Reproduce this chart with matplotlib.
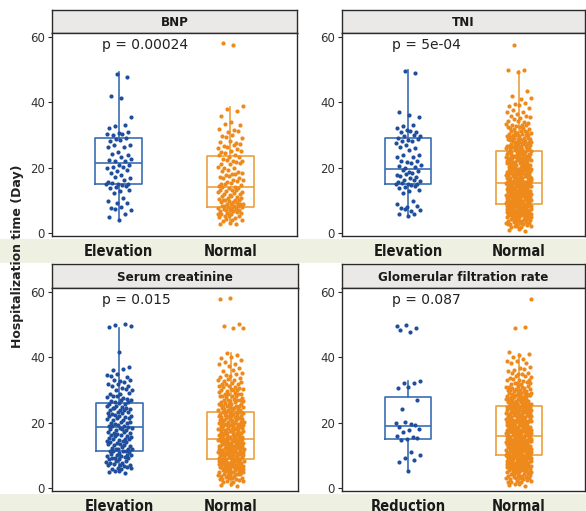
import numpy as np
import matplotlib
matplotlib.use("Agg")
import matplotlib.pyplot as plt
from matplotlib.patches import Rectangle
from matplotlib import font_manager

# ---------------- data ----------------
panel_titles = ["BNP", "TNI", "Serum creatinine", "Glomerular filtration rate"]
group_labels = [["Elevation", "Normal"], ["Elevation", "Normal"],
                ["Elevation", "Normal"], ["Reduction", "Normal"]]
p_labels = ["p = 0.00024", "p = 5e-04", "p = 0.015", "p = 0.087"]
y_ticks = [0, 20, 40, 60]

# box statistics: (whisker low, Q1, median, Q3, whisker high)
bnp_elev_box = [3.9, 14.9, 21.5, 29.2, 49.4]
bnp_norm_box = [3.0, 7.8, 13.9, 23.5, 38.7]
tni_elev_box = [5.0, 15.0, 19.7, 29.1, 50.0]
tni_norm_box = [1.0, 8.8, 15.2, 25.2, 49.5]
scr_elev_box = [4.7, 11.2, 18.6, 26.1, 49.0]
scr_norm_box = [0.5, 8.9, 15.0, 23.3, 41.2]
gfr_red_box = [5.5, 14.9, 18.9, 28.0, 32.7]
gfr_norm_box = [1.3, 9.9, 15.9, 25.2, 41.1]

# patient counts per hospitalization day (day: count)
bnp_elev_counts = {4: 1, 5: 1, 6: 1, 7: 2, 8: 2, 9: 2, 10: 1, 11: 1, 12: 1, 13: 2, 14: 3,
                   15: 5, 16: 2, 17: 2, 18: 2, 19: 2, 20: 3, 21: 2, 22: 3, 23: 2, 24: 2,
                   25: 1, 26: 2, 27: 2, 28: 2, 29: 2, 30: 3, 31: 2, 32: 1, 33: 2, 36: 1,
                   41: 1, 42: 1, 48: 1, 49: 1}
bnp_norm_counts = {3: 3, 4: 4, 5: 5, 6: 6, 7: 7, 8: 8, 9: 7, 10: 6, 11: 5, 12: 5, 13: 5,
                   14: 5, 15: 4, 16: 4, 17: 4, 18: 4, 19: 3, 20: 3, 21: 3, 22: 4, 23: 3,
                   24: 3, 25: 3, 26: 3, 27: 3, 28: 3, 29: 2, 30: 2, 31: 2, 32: 2, 33: 2,
                   34: 1, 36: 1, 37: 1, 38: 1, 39: 1, 58: 2}
tni_elev_counts = {5: 1, 6: 2, 7: 3, 8: 3, 9: 1, 10: 1, 12: 1, 13: 2, 14: 3, 15: 5, 16: 4,
                   17: 3, 18: 3, 19: 3, 20: 3, 21: 2, 22: 3, 23: 2, 24: 2, 25: 1, 26: 2,
                   27: 2, 28: 2, 29: 3, 30: 3, 31: 3, 32: 2, 33: 2, 36: 2, 37: 1, 49: 1,
                   50: 1}
tni_norm_counts = {1: 3, 2: 6, 3: 9, 4: 12, 5: 14, 6: 16, 7: 17, 8: 18, 9: 18, 10: 18,
                   11: 17, 12: 16, 13: 16, 14: 15, 15: 15, 16: 14, 17: 14, 18: 13, 19: 13,
                   20: 12, 21: 12, 22: 12, 23: 11, 24: 11, 25: 11, 26: 10, 27: 10, 28: 9,
                   29: 9, 30: 8, 31: 7, 32: 6, 33: 5, 34: 4, 35: 3, 36: 3, 37: 2, 38: 2,
                   39: 2, 40: 2, 41: 2, 42: 1, 44: 1, 49: 1, 50: 2, 58: 1}
scr_elev_counts = {5: 4, 6: 5, 7: 5, 8: 5, 9: 6, 10: 6, 11: 6, 12: 6, 13: 5, 14: 5, 15: 5,
                   16: 5, 17: 5, 18: 6, 19: 5, 20: 5, 21: 5, 22: 5, 23: 5, 24: 5, 25: 5,
                   26: 5, 27: 4, 28: 4, 29: 3, 30: 3, 31: 3, 32: 3, 33: 3, 34: 2, 35: 2,
                   36: 2, 37: 1, 42: 1, 49: 1, 50: 3}
scr_norm_counts = {1: 3, 2: 5, 3: 7, 4: 9, 5: 11, 6: 12, 7: 13, 8: 14, 9: 14, 10: 14,
                   11: 13, 12: 13, 13: 13, 14: 12, 15: 12, 16: 11, 17: 11, 18: 11, 19: 10,
                   20: 10, 21: 10, 22: 9, 23: 9, 24: 8, 25: 8, 26: 7, 27: 7, 28: 6, 29: 6,
                   30: 6, 31: 5, 32: 5, 33: 4, 34: 3, 35: 3, 36: 2, 37: 2, 38: 2, 39: 2,
                   40: 2, 41: 2, 49: 2, 50: 2, 58: 2}
gfr_red_values = [5, 8, 9, 9, 10, 11, 15, 15, 15, 16, 16, 17, 18, 18, 19, 19, 20, 20, 20,
                  24, 27, 31, 31, 32, 32, 33, 48, 48, 49, 50, 50]
gfr_norm_counts = {1: 4, 2: 6, 3: 8, 4: 10, 5: 12, 6: 14, 7: 16, 8: 17, 9: 18, 10: 19,
                   11: 19, 12: 19, 13: 19, 14: 19, 15: 19, 16: 18, 17: 18, 18: 17, 19: 17,
                   20: 16, 21: 16, 22: 15, 23: 15, 24: 14, 25: 13, 26: 12, 27: 11, 28: 10,
                   29: 9, 30: 8, 31: 7, 32: 6, 33: 5, 34: 4, 35: 4, 36: 3, 37: 2, 38: 2,
                   39: 2, 40: 2, 41: 2, 42: 1, 49: 2, 58: 1}


def expand(counts):
    days = np.array(list(counts.keys()), dtype=float)
    n = np.array(list(counts.values()))
    return np.repeat(days, n)


panels = [
    (expand(bnp_elev_counts), expand(bnp_norm_counts), bnp_elev_box, bnp_norm_box),
    (expand(tni_elev_counts), expand(tni_norm_counts), tni_elev_box, tni_norm_box),
    (expand(scr_elev_counts), expand(scr_norm_counts), scr_elev_box, scr_norm_box),
    (np.array(gfr_red_values, dtype=float), expand(gfr_norm_counts), gfr_red_box, gfr_norm_box),
]

# ---------------- styling ----------------
W, H = 586, 511
blue_box, blue_pt = "#3b6db2", "#1f4f9c"
orange_box, orange_pt = "#eba13f", "#ee8a1c"
dark = "#2b2b2b"

# find a condensed bold face if one is installed
cond_fp = None
for f in font_manager.fontManager.ttflist:
    nm = (f.fname or "").lower()
    if "condensed-bold" in nm and "oblique" not in nm and "dejavusans" in nm.replace(" ", ""):
        cond_fp = font_manager.FontProperties(fname=f.fname)
        break
if cond_fp is None:
    for f in font_manager.fontManager.ttflist:
        nm = (f.fname or "").lower()
        if "narrow" in nm and "bold" in nm and "italic" not in nm:
            cond_fp = font_manager.FontProperties(fname=f.fname)
            break
if cond_fp is None:
    cond_fp = font_manager.FontProperties(family="DejaVu Sans", weight="bold")


def cfp(size):
    fp = cond_fp.copy()
    fp.set_size(size)
    return fp


fig = plt.figure(figsize=(W / 100, H / 100), dpi=100)
fig.patch.set_facecolor("white")

# pale bands behind category labels
for (y0, y1) in [(239, 263), (494, 511)]:
    fig.patches.append(Rectangle((0, 1 - y1 / H), 1, (y1 - y0) / H,
                                 transform=fig.transFigure, facecolor="#eef1e1",
                                 edgecolor="none", zorder=0))

# pixel boxes: (left, right, strip_top, plot_top, plot_bottom)
boxes_px = [(52, 297, 10, 33, 236), (342, 585, 10, 33, 236),
            (52, 298, 264, 288, 491), (342, 585, 264, 288, 491)]


def golden(i, a):
    return (i * a + 0.5) % 1.0


for k, (lx, rx, st, pt, pb) in enumerate(boxes_px):
    ax = fig.add_axes([lx / W, 1 - pb / H, (rx - lx) / W, (pb - pt) / H])
    ax.set_facecolor("white")
    ax.set_zorder(2)
    g1, g2, b1, b2 = panels[k]
    for j, (b, col) in enumerate(zip((b1, b2), [blue_box, orange_box])):
        st_ = dict(whislo=b[0], q1=b[1], med=b[2], q3=b[3], whishi=b[4], fliers=[])
        ax.bxp([st_], positions=[j + 1], widths=0.42, showcaps=False, showfliers=False,
               boxprops=dict(color=col, linewidth=1.2),
               medianprops=dict(color=col, linewidth=1.2),
               whiskerprops=dict(color=col, linewidth=1.2), manage_ticks=False)
    for j, (vals, col) in enumerate(zip([g1, g2], [blue_pt, orange_pt])):
        idx = np.arange(len(vals))
        dx = 0.115 * (2 * golden(idx, 0.6180339887) - 1)
        dy = 0.4 * (2 * golden(idx, 0.7548776662) - 1)
        ax.scatter(j + 1 + dx, vals + dy, s=9, color=col, linewidths=0, zorder=3)
    ax.set_xlim(0.4, 2.6)
    ax.set_ylim(-1.0, 61.3)
    ax.set_yticks(y_ticks)
    ax.set_yticklabels([str(t) for t in y_ticks])
    ax.set_xticks([1, 2])
    ax.set_xticklabels(group_labels[k], fontproperties=cfp(10.5), color="#1a1a1a")
    ax.tick_params(axis="y", length=3, width=0.8, color=dark, labelsize=8.5,
                   labelcolor="#333333", pad=2)
    ax.tick_params(axis="x", length=0, pad=6)
    for s in ax.spines.values():
        s.set_color(dark)
        s.set_linewidth(1.0)
    ax.text(0.85, 57.6, p_labels[k], ha="left", va="center", fontsize=10,
            color="#222222")

    sax = fig.add_axes([lx / W, 1 - pt / H, (rx - lx) / W, (pt - st) / H])
    sax.set_facecolor("#ebe8e8")
    sax.set_xticks([])
    sax.set_yticks([])
    for s in sax.spines.values():
        s.set_color(dark)
        s.set_linewidth(1.0)
    sax.text(0.5, 0.45, panel_titles[k], ha="center", va="center",
             fontproperties=cfp(9.5), color="#1a1a1a", transform=sax.transAxes)

fig.text(18 / W, 1 - 256 / H, "Hospitalization time (Day)", rotation=90, ha="center",
         va="center", fontsize=9, fontweight="bold", color="#222222")

fig.savefig("out.png", dpi=100)
